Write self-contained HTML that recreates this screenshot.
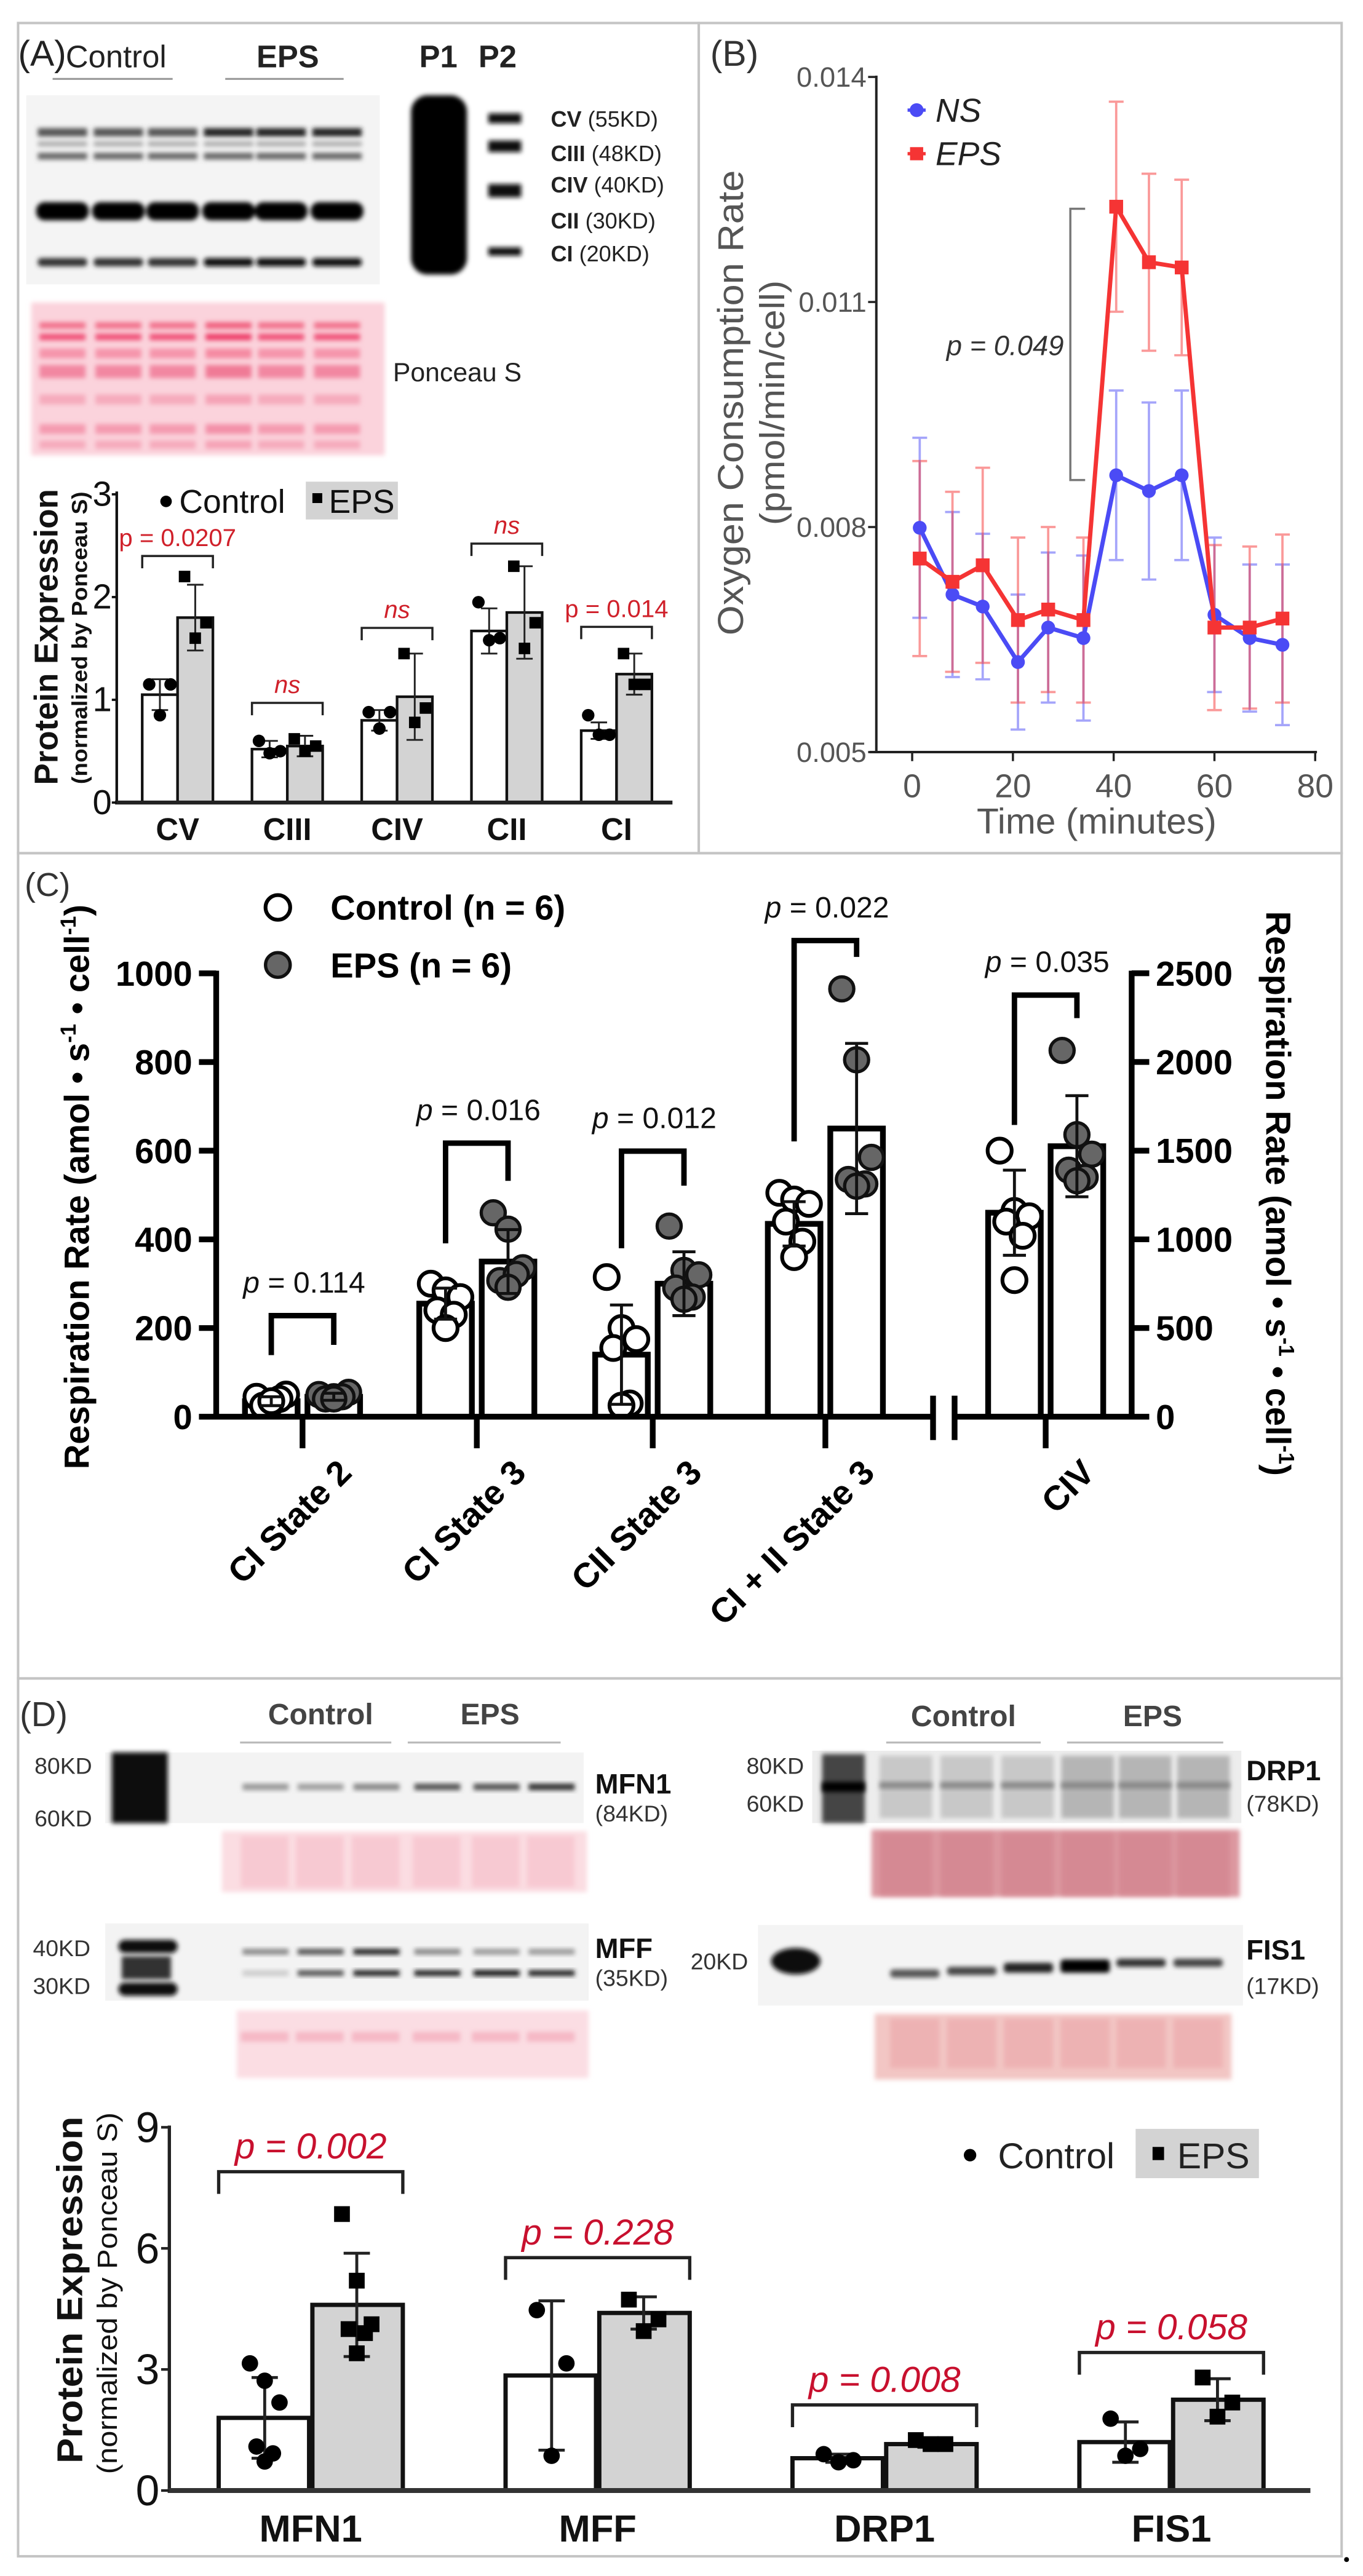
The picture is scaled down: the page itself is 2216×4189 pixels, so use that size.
<!DOCTYPE html>
<html>
<head>
<meta charset="utf-8">
<style>
html,body{margin:0;padding:0;background:#fff;}
svg{display:block;}
text{font-family:"Liberation Sans",sans-serif;}
.nar{font-family:"Liberation Sans Narrow","Liberation Sans",sans-serif;}
</style>
</head>
<body>
<svg id="fig" xmlns="http://www.w3.org/2000/svg" viewBox="0 0 829 1567" width="2216" height="4189" preserveAspectRatio="none">
<defs>
<filter id="b1" x="-20%" y="-50%" width="140%" height="200%"><feGaussianBlur stdDeviation="1.4"/></filter>
<filter id="b2" x="-20%" y="-20%" width="140%" height="140%"><feGaussianBlur stdDeviation="3"/></filter>
</defs>
<rect x="0" y="0" width="829" height="1567" fill="#fff"/>
<g fill="none" stroke="#c4c4c4" stroke-width="1.5">
<rect x="11" y="14" width="414" height="505"/>
<rect x="425" y="14" width="391" height="505"/>
<rect x="11" y="519" width="805" height="502"/>
<rect x="11" y="1021" width="805" height="534"/>
</g>
<circle cx="819" cy="1557" r="1.5" fill="#000"/>

<g>
<text x="11" y="40" font-size="22" fill="#222">(A)</text>
<text x="40" y="41" class="nar" font-size="19" fill="#222">Control</text>
<line x1="32" y1="48" x2="105" y2="48" stroke="#999" stroke-width="1.2"/>
<text x="156" y="41" class="nar" font-size="19" font-weight="bold" fill="#222">EPS</text>
<line x1="137" y1="48" x2="209" y2="48" stroke="#999" stroke-width="1.2"/>
<text x="255" y="41" class="nar" font-size="19" font-weight="bold" fill="#222">P1</text>
<text x="291" y="41" class="nar" font-size="19" font-weight="bold" fill="#222">P2</text>
<rect x="16" y="58" width="215" height="115" fill="#f4f4f4"/>
<g id="blotA" filter="url(#b1)"></g>
<rect x="250" y="58" width="34" height="109" rx="10" fill="#050505" filter="url(#b1)"/>
<g id="p2lane" filter="url(#b1)"></g>
<g class="nar" font-size="13.5" fill="#222">
<text x="335" y="77"><tspan font-weight="bold">CV</tspan> (55KD)</text>
<text x="335" y="98"><tspan font-weight="bold">CIII</tspan> (48KD)</text>
<text x="335" y="117"><tspan font-weight="bold">CIV</tspan> (40KD)</text>
<text x="335" y="139"><tspan font-weight="bold">CII</tspan> (30KD)</text>
<text x="335" y="159"><tspan font-weight="bold">CI</tspan> (20KD)</text>
</g>
<rect x="19" y="184" width="215" height="93" fill="#fbd3dc" filter="url(#b1)"/>
<g id="ponA" filter="url(#b1)"></g>
<text x="239" y="232" class="nar" font-size="16" fill="#222">Ponceau S</text>
</g>
<g id="chartA"></g>

<text x="432" y="40" font-size="22" fill="#333">(B)</text>
<g id="chartB"></g>

<text x="15" y="545" font-size="20" fill="#333">(C)</text>
<g id="chartC"></g>

<g>
<text x="12" y="1050" font-size="21" fill="#333">(D)</text>
<text x="163" y="1049" class="nar" font-size="18" font-weight="bold" fill="#444">Control</text>
<line x1="146" y1="1060" x2="238" y2="1060" stroke="#bbb" stroke-width="1.2"/>
<text x="280" y="1049" class="nar" font-size="18" font-weight="bold" fill="#444">EPS</text>
<line x1="248" y1="1060" x2="341" y2="1060" stroke="#bbb" stroke-width="1.2"/>
<text x="554" y="1050" class="nar" font-size="18" font-weight="bold" fill="#444">Control</text>
<line x1="539" y1="1060" x2="633" y2="1060" stroke="#bbb" stroke-width="1.2"/>
<text x="683" y="1050" class="nar" font-size="18" font-weight="bold" fill="#444">EPS</text>
<line x1="649" y1="1060" x2="744" y2="1060" stroke="#bbb" stroke-width="1.2"/>

<rect x="64" y="1066" width="291" height="43" fill="#f3f3f3"/>
<rect x="68" y="1066" width="34" height="43" fill="#080808" filter="url(#b1)"/>
<rect x="135" y="1114" width="222" height="37" fill="#fbdde2" filter="url(#b1)"/>
<rect x="64" y="1170" width="294" height="47" fill="#f3f3f3"/>
<rect x="144" y="1223" width="214" height="41" fill="#fbdde3" filter="url(#b1)"/>
<rect x="494" y="1065" width="261" height="44" fill="#ededed"/>
<rect x="530" y="1113" width="224" height="41" fill="#dc98a0" filter="url(#b1)"/>
<rect x="461" y="1171" width="295" height="49" fill="#f4f4f4"/>
<rect x="532" y="1225" width="217" height="40" fill="#f2c6c4" filter="url(#b1)"/>
<g id="blotD"></g>
<g class="nar" font-size="14" fill="#333">
<text x="21" y="1079">80KD</text>
<text x="21" y="1111">60KD</text>
<text x="20" y="1190">40KD</text>
<text x="20" y="1213">30KD</text>
<text x="454" y="1079">80KD</text>
<text x="454" y="1102">60KD</text>
<text x="420" y="1198">20KD</text>
<text x="362" y="1108">(84KD)</text>
<text x="362" y="1208">(35KD)</text>
<text x="758" y="1102">(78KD)</text>
<text x="758" y="1213">(17KD)</text>
</g>
<g class="nar" font-size="17" font-weight="bold" fill="#111">
<text x="362" y="1091">MFN1</text>
<text x="362" y="1191">MFF</text>
<text x="758" y="1083">DRP1</text>
<text x="758" y="1192">FIS1</text>
</g>
</g>
<g id="chartD"></g>
</svg>

<script>
// Panel A
const catsA = ['CV','CIII','CIV','CII','CI'];
const ctrlA = [1.05,0.52,0.8,1.67,0.7];
const epsA = [1.8,0.55,1.03,1.85,1.25];
const ctrlErrA = [0.15,0.08,0.1,0.22,0.08];
const epsErrA = [0.32,0.1,0.42,0.45,0.2];
const ctrlPtsA = [[1.15,1.15,0.85],[0.6,0.5,0.48],[0.88,0.88,0.72],[1.95,1.6,1.58],[0.85,0.66,0.66]];
const epsPtsA = [[2.2,1.75,1.6],[0.62,0.55,0.5],[1.45,0.92,0.78],[2.3,1.75,1.5],[1.45,1.15,1.15]];
const pLabelsA = ['p = 0.0207','ns','ns','ns','p = 0.014'];
const bracketA = [2.4,0.97,1.7,2.52,1.71];
const ticksA = [0,1,2,3];
// Panel B
const timesB = [1.5,8,14,21,27,34,40.5,47,53.5,60,67,73.5];
const nsB = [0.00799,0.0071,0.00694,0.0062,0.00666,0.00652,0.00869,0.00848,0.00869,0.00683,0.00652,0.00643];
const nsErrB = [0.0012,0.0011,0.00097,0.0009,0.001,0.0011,0.00113,0.00118,0.00113,0.00103,0.00098,0.00107];
const epsB = [0.00758,0.00727,0.00749,0.00676,0.0069,0.00676,0.01227,0.01153,0.01146,0.00666,0.00666,0.00678];
const epsErrB = [0.0013,0.0012,0.0013,0.0011,0.0011,0.0011,0.0014,0.00118,0.00117,0.0011,0.00108,0.00112];
const yTicksB = [0.005,0.008,0.011,0.014];
const yTickLabelsB = ['0.005','0.008','0.011','0.014'];
const xTicksB = [0,20,40,60,80];
// Panel C
const catsC = ['CI State 2','CI State 3','CII State 3','CI + II State 3','CIV'];
const axisC = ['L','L','L','L','R'];
const ctrlC = [35,255,140,435,1150];
const epsC = [45,350,300,650,1525];
const ctrlErrC = [10,35,112,50,240];
const epsErrC = [8,72,72,192,285];
const ctrlPtsC = [[45,30,50,25,40,35],[300,285,270,240,230,200],[315,200,175,155,30,25],[505,490,480,440,395,360],[1500,1160,1130,1100,1020,770]];
const epsPtsC = [[50,45,55,40,45,40],[460,423,336,307,321,292],[430,330,320,290,270,265],[965,805,585,535,525,520],[2065,1590,1480,1390,1350,1330]];
const pLabelsC = ['0.114','0.016','0.012','0.022','0.035'];
const bracketTopC = [228,617,599,1074,951];
const bracketLegLC = [139,391,380,621,658];
const bracketLegRC = [162,532,521,1037,899];
const ticksCL = [0,200,400,600,800,1000];
const ticksCR = [0,500,1000,1500,2000,2500];
// Panel D
const catsD = ['MFN1','MFF','DRP1','FIS1'];
const ctrlD = [1.8,2.85,0.8,1.2];
const epsD = [4.6,4.4,1.15,2.25];
const ctrlErrD = [1.0,1.85,0.1,0.5];
const epsErrD = [1.28,0.4,0.08,0.52];
const ctrlPtsD = [[3.15,2.72,2.18,1.09,0.92,0.72],[4.47,3.15,0.86],[0.9,0.75,0.7],[1.78,1.03,0.86]];
const epsPtsD = [[6.85,5.2,4.12,4.0,3.9,3.4],[4.73,4.24,3.95],[1.25,1.15,1.15],[2.8,2.18,1.83]];
const pLabelsD = ['p = 0.002','p = 0.228','p = 0.008','p = 0.058'];
const bracketTopD = [7.9,5.77,2.12,3.42];
const ticksD = [0,3,6,9];

const NS = 'http://www.w3.org/2000/svg';
function mk(tag, attrs, parent){
  const e = document.createElementNS(NS, tag);
  for (const k in attrs) e.setAttribute(k, attrs[k]);
  parent.appendChild(e);
  return e;
}
function $(id){return document.getElementById(id);}
const jit3 = [-5,5,0];
const jit6 = [-9,0,9,-5,5,0];

(function(){
  const g = $('blotA');
  const lanes = [38,72,105,139,171,205];
  lanes.forEach((cx,i)=>{
    const eps = i>=3;
    let r;
    r = mk('rect',{x:cx-15,y:78,width:30,height:5,fill:eps?'#222':'#555'},g);
    
    
    r = mk('rect',{x:cx-15,y:86,width:30,height:3,fill:'#aaa'},g);
    
    
    r = mk('rect',{x:cx-15,y:93,width:30,height:4,fill:'#666'},g);
    
    
    r = mk('rect',{x:cx-16,y:123,width:32,height:11,rx:5,fill:'#050505'},g);
    
    
    r = mk('rect',{x:cx-15,y:157,width:30,height:5,rx:2,fill:eps?'#111':'#333'},g);
    
    
  });
  const p2 = $('p2lane');
  [[72,6],[89,7],[116,8],[153,5]].forEach(b=>{
    const r = mk('rect',{x:297,y:b[0]-b[1]/2,width:20,height:b[1],fill:'#111'},p2);
    
    
  });
  const pg = $('ponA');
  lanes.forEach((cx,i)=>{
    const bands = [[196,4,'#f0607f'],[203,4,'#ee3d68'],[212,6,'#f58aa2'],[222,8,'#f07a96'],[240,6,'#f5a3b6'],[258,6,'#f390a8'],[268,5,'#f5a3b6']];
    bands.forEach(b=>{
      const r = mk('rect',{x:cx-14,y:b[0],width:28,height:b[1],fill:b[2],opacity:i===3?1:0.85},pg);
      
      
    });
  });
  const d = $('blotD');
  const lanesD1 = [161.5,195,229,266,302,335.5];
  const mfnShade = ['#999','#a0a0a0','#888','#555','#555','#333'];
  lanesD1.forEach((cx,i)=>{
    let r = mk('rect',{x:cx-14,y:1085,width:28,height:4,fill:mfnShade[i],filter:'url(#b1)'},d);
    
    
    r = mk('rect',{x:cx-14,y:1185.5,width:28,height:3.5,fill:['#888','#555','#222','#888','#999','#999'][i],filter:'url(#b1)'},d);
    
    
    r = mk('rect',{x:cx-14,y:1198.5,width:28,height:3.5,fill:['#ccc','#555','#222','#222','#111','#222'][i],filter:'url(#b1)'},d);
    
    
    r = mk('rect',{x:cx-15,y:1117,width:29,height:31,fill:'#f6bcc8',opacity:0.6,filter:'url(#b1)'},d);
    
    
    r = mk('rect',{x:cx-15,y:1236,width:29,height:6,fill:'#f3a9b9',opacity:0.7,filter:'url(#b1)'},d);
    
    
  });
  let lr = mk('rect',{x:72,y:1180,width:36,height:8,rx:4,fill:'#080808',filter:'url(#b1)'},d);
  
  
  lr = mk('rect',{x:74,y:1190,width:30,height:14,fill:'#333',filter:'url(#b1)'},d);
  
  
  lr = mk('rect',{x:72,y:1206,width:36,height:8,rx:4,fill:'#080808',filter:'url(#b1)'},d);
  
  
  const lanesD2 = [551,588,625,661.5,696.5,732];
  lanesD2.forEach((cx,i)=>{
    let r = mk('rect',{x:cx-16,y:1068,width:32,height:38,fill:i>=3?'#b5b5b5':'#c8c8c8',filter:'url(#b1)'},d);
    
    
    r = mk('rect',{x:cx-16,y:1084,width:32,height:4,fill:'#888',filter:'url(#b1)'},d);
    
    
    r = mk('rect',{x:cx-16,y:1115,width:32,height:38,fill:'#d3838e',opacity:0.7,filter:'url(#b1)'},d);
    
    
  });
  lr = mk('rect',{x:500,y:1067,width:26,height:42,fill:'#444',filter:'url(#b1)'},d);
  
  
  lr = mk('rect',{x:500,y:1084,width:26,height:6,fill:'#000',filter:'url(#b1)'},d);
  
  
  const lanesF = [556.4,591,625.5,660,694,728.7];
  const fisY = [1200.5,1199,1197,1196,1194,1194];
  const fisC = ['#555','#444','#222','#000','#333','#444'];
  const fisH = [5,5,6,8,5,5];
  lanesF.forEach((cx,i)=>{
    let r = mk('rect',{x:cx-15,y:fisY[i]-fisH[i]/2,width:30,height:fisH[i],rx:2,fill:fisC[i],filter:'url(#b1)'},d);
    
    
    r = mk('rect',{x:cx-15,y:1228,width:30,height:30,fill:'#eba5a8',opacity:0.6,filter:'url(#b1)'},d);
    
    
  });
  lr = mk('ellipse',{cx:484,cy:1193,rx:15,ry:8,fill:'#080808',filter:'url(#b1)'},d);
  
  
})();

// CHART A
(function(){
  const g = $('chartA');
  const yA = v => 488.2 - v*62.5;
  const xA = i => 108 + i*66.75;
  const bw = 21.5;
  catsA.forEach((c,i)=>{
    const cx = xA(i);
    let b = mk('rect',{x:cx-bw,y:yA(ctrlA[i]),width:bw,height:yA(0)-yA(ctrlA[i]),fill:'#fff',stroke:'#111','stroke-width':1.6},g);
    
    
    b = mk('rect',{x:cx,y:yA(epsA[i]),width:bw,height:yA(0)-yA(epsA[i]),fill:'#d3d3d3',stroke:'#111','stroke-width':1.6},g);
    
    
    [[cx-bw/2,ctrlA[i],ctrlErrA[i]],[cx+bw/2,epsA[i],epsErrA[i]]].forEach(e=>{
      const p = mk('path',{d:`M${e[0]} ${yA(e[1]-e[2])}V${yA(e[1]+e[2])}M${e[0]-5} ${yA(e[1]+e[2])}h10M${e[0]-5} ${yA(e[1]-e[2])}h10`,stroke:'#222','stroke-width':1.1,fill:'none'},g);
      
      
    });
    ctrlPtsA[i].forEach((v,j)=>{
      const p = mk('circle',{cx:cx-bw/2+jit3[j]*1.3,cy:yA(v),r:3.8,fill:'#000'},g);
      
      
    });
    epsPtsA[i].forEach((v,j)=>{
      const p = mk('rect',{x:cx+bw/2+jit3[j]*1.3-3.5,y:yA(v)-3.5,width:7,height:7,fill:'#000'},g);
      
      
    });
    const by = yA(bracketA[i]);
    const br = mk('path',{d:`M${cx-bw} ${by+7.5}V${by}H${cx+bw}V${by+7.5}`,stroke:'#222','stroke-width':1.3,fill:'none'},g);
    
    
    const t = mk('text',{x:cx,y:by-6,'text-anchor':'middle','font-size':15,fill:'#d0202a','font-style':pLabelsA[i]==='ns'?'italic':'normal',class:'nar'},g);
    t.textContent = pLabelsA[i];
    
    
    const xl = mk('text',{x:cx,y:511,'text-anchor':'middle','font-size':19,'font-weight':'bold',fill:'#111',class:'nar'},g);
    xl.textContent = c;
    
    
  });
  let a = mk('line',{x1:71,y1:299,x2:71,y2:489,stroke:'#111','stroke-width':1.6},g);
  
  
  a = mk('line',{x1:70,y1:488.2,x2:409,y2:488.2,stroke:'#222','stroke-width':2.4},g);
  
  
  ticksA.forEach(v=>{
    const tk = mk('line',{x1:68,y1:yA(v),x2:71,y2:yA(v),stroke:'#111','stroke-width':1.4},g);
    
    
    const tl = mk('text',{x:68,y:yA(v)+7,'text-anchor':'end','font-size':21,fill:'#111',class:'nar'},g);
    tl.textContent = String(v);
    
    
  });
  let t = mk('text',{x:0,y:0,'text-anchor':'middle','font-size':20,'font-weight':'bold',fill:'#111',transform:'translate(35,387.5) rotate(-90)',textLength:180,lengthAdjust:'spacingAndGlyphs'},g);
  t.textContent = 'Protein Expression';
  
  
  t = mk('text',{x:0,y:0,'text-anchor':'middle','font-size':13,'font-weight':'bold',fill:'#111',transform:'translate(53,388) rotate(-90)',textLength:178,lengthAdjust:'spacingAndGlyphs'},g);
  t.textContent = '(normalized by Ponceau S)';
  
  
  let l = mk('circle',{cx:101,cy:305,r:3.5,fill:'#000'},g);
  
  
  l = mk('text',{x:109,y:312,'font-size':20,fill:'#111',class:'nar'},g);
  l.textContent = 'Control';
  
  
  l = mk('rect',{x:186,y:293,width:56,height:23,fill:'#d3d3d3'},g);
  
  
  l = mk('rect',{x:190,y:300,width:6,height:6,fill:'#000'},g);
  
  
  l = mk('text',{x:200,y:312,'font-size':20,fill:'#111',class:'nar'},g);
  l.textContent = 'EPS';
  
  
})();

// CHART B
(function(){
  const g = $('chartB');
  const xB = t => 554.8 + t*3.064;
  const yB = v => 46.8 + (0.014 - v)/0.009*410.7;
  const blue = '#4b4bf5', red = '#f53434';
  [[nsB,nsErrB,blue,'ns'],[epsB,epsErrB,red,'eps']].forEach(s=>{
    timesB.forEach((t,i)=>{
      const x = xB(t), lo = yB(s[0][i]-s[1][i]), hi = yB(s[0][i]+s[1][i]);
      const p = mk('path',{d:`M${x} ${lo}V${hi}M${x-4.5} ${hi}h9M${x-4.5} ${lo}h9`,stroke:s[2],'stroke-width':1.4,'stroke-opacity':0.5,fill:'none'},g);
      
      
    });
  });
  [[nsB,blue,'ns'],[epsB,red,'eps']].forEach(s=>{
    const d = timesB.map((t,i)=>(i?'L':'M')+xB(t)+' '+yB(s[0][i])).join('');
    const p = mk('path',{d:d,stroke:s[1],'stroke-width':2.6,fill:'none'},g);
    
    
    timesB.forEach((t,i)=>{
      let m;
      if (s[2]==='ns') m = mk('circle',{cx:xB(t),cy:yB(s[0][i]),r:4.2,fill:s[1]},g);
      else m = mk('rect',{x:xB(t)-4.2,y:yB(s[0][i])-4.2,width:8.4,height:8.4,fill:s[1]},g);
      
      
    });
  });
  let a = mk('line',{x1:533,y1:46,x2:533,y2:458,stroke:'#222','stroke-width':1.5},g);
  
  
  a = mk('line',{x1:529,y1:457.5,x2:801,y2:457.5,stroke:'#222','stroke-width':1.5},g);
  
  
  yTicksB.forEach((v,i)=>{
    const tk = mk('line',{x1:528,y1:yB(v),x2:533,y2:yB(v),stroke:'#222','stroke-width':1.3},g);
    
    
    const tl = mk('text',{x:527,y:yB(v)+6,'text-anchor':'end','font-size':17,fill:'#555'},g);
    tl.textContent = yTickLabelsB[i];
    
    
  });
  xTicksB.forEach(v=>{
    const tk = mk('line',{x1:xB(v),y1:457.5,x2:xB(v),y2:463,stroke:'#222','stroke-width':1.3},g);
    
    
    const tl = mk('text',{x:xB(v),y:485,'text-anchor':'middle','font-size':20,fill:'#555'},g);
    tl.textContent = String(v);
    
    
  });
  let t = mk('text',{x:667,y:507,'text-anchor':'middle','font-size':22,fill:'#555'},g);
  t.textContent = 'Time (minutes)';
  
  
  t = mk('text',{x:0,y:0,'text-anchor':'middle','font-size':22,fill:'#555',transform:'translate(452,245) rotate(-90)',textLength:283,lengthAdjust:'spacingAndGlyphs'},g);
  t.textContent = 'Oxygen  Consumption Rate';
  
  
  t = mk('text',{x:0,y:0,'text-anchor':'middle','font-size':21,fill:'#555',transform:'translate(477,245) rotate(-90)',textLength:149,lengthAdjust:'spacingAndGlyphs'},g);
  t.textContent = '(pmol/min/cell)';
  
  
  let br = mk('path',{d:'M660 127H651V292H660',stroke:'#777','stroke-width':1.3,fill:'none'},g);
  
  
  t = mk('text',{x:647,y:216,'text-anchor':'end','font-size':17,'font-style':'italic',fill:'#333'},g);
  t.textContent = 'p = 0.049';
  
  
  let l = mk('line',{x1:552,y1:67,x2:563,y2:67,stroke:blue,'stroke-width':2},g);
  
  
  l = mk('circle',{cx:557.5,cy:67,r:4.2,fill:blue},g);
  
  
  l = mk('text',{x:569,y:74,'font-size':20,'font-style':'italic',fill:'#222'},g);
  l.textContent = 'NS';
  
  
  l = mk('line',{x1:552,y1:93.5,x2:563,y2:93.5,stroke:red,'stroke-width':2},g);
  
  
  l = mk('rect',{x:553.5,y:89.5,width:8,height:8,fill:red},g);
  
  
  l = mk('text',{x:569,y:100.5,'font-size':20,'font-style':'italic',fill:'#222'},g);
  l.textContent = 'EPS';
  
  
})();

// CHART C
(function(){
  const g = $('chartC');
  const yL = v => 861.8 - v*0.2697;
  const yR = v => 861.8 - v*0.1079;
  const xC = [184,290,397,502,636];
  const ys = i => axisC[i]==='L' ? yL : yR;
  catsC.forEach((c,i)=>{
    const cx = xC[i], y = ys(i);
    let b = mk('rect',{x:cx-35,y:y(ctrlC[i]),width:32,height:861.8-y(ctrlC[i]),fill:'#fff',stroke:'#000','stroke-width':3.5},g);
    
    
    b = mk('rect',{x:cx+3,y:y(epsC[i]),width:32,height:861.8-y(epsC[i]),fill:'#fff',stroke:'#000','stroke-width':3.5},g);
    
    
    ctrlPtsC[i].forEach((v,j)=>{
      const p = mk('circle',{cx:cx-19+jit6[j],cy:y(v),r:7.3,fill:'#fff',stroke:'#000','stroke-width':2.3},g);
      
      
    });
    epsPtsC[i].forEach((v,j)=>{
      const p = mk('circle',{cx:cx+19+jit6[j],cy:y(v),r:7.3,fill:'#666',stroke:'#111','stroke-width':2},g);
      
      
    });
    [[cx-19,ctrlC[i],ctrlErrC[i]],[cx+19,epsC[i],epsErrC[i]]].forEach(e=>{
      const lo = y(e[1]-e[2]), hi = y(e[1]+e[2]);
      const p = mk('path',{d:`M${e[0]} ${lo}V${hi}M${e[0]-7} ${hi}h14M${e[0]-7} ${lo}h14`,stroke:'#111','stroke-width':1.8,fill:'none'},g);
      
      
    });
    const bt = yL(bracketTopC[i]);
    const br = mk('path',{d:`M${cx-19} ${yL(bracketLegLC[i])}V${bt}H${cx+19}V${yL(bracketLegRC[i])}`,stroke:'#000','stroke-width':3.3,fill:'none'},g);
    
    
    const t = mk('text',{x:cx+1,y:bt-14,'text-anchor':'middle','font-size':18,fill:'#111'},g);
    const ti = mk('tspan',{'font-style':'italic'},t);
    ti.textContent = 'p';
    const tr = mk('tspan',{},t);
    tr.textContent = ' = '+pLabelsC[i];
    
    
    const tk = mk('line',{x1:cx,y1:861,x2:cx,y2:881,stroke:'#000','stroke-width':3.5},g);
    
    
    const xl = mk('text',{x:0,y:0,'text-anchor':'end','font-size':21,'font-weight':'bold',fill:'#000',transform:`translate(${cx+31},${897}) rotate(-45)`},g);
    xl.textContent = c;
    
    
  });
  let a = mk('line',{x1:131.5,y1:590.5,x2:131.5,y2:863.5,stroke:'#000','stroke-width':3.5},g);
  
  
  a = mk('line',{x1:688.3,y1:590.5,x2:688.3,y2:863.5,stroke:'#000','stroke-width':3.5},g);
  
  
  a = mk('path',{d:'M129.8 861.8H567.5M580.6 861.8H690',stroke:'#000','stroke-width':3.5,fill:'none'},g);
  
  
  a = mk('path',{d:'M567.5 849V876M580.6 849V876',stroke:'#000','stroke-width':3.5,fill:'none'},g);
  
  
  ticksCL.forEach(v=>{
    const tk = mk('line',{x1:121,y1:yL(v),x2:131.5,y2:yL(v),stroke:'#000','stroke-width':3.5},g);
    
    
    const tl = mk('text',{x:117,y:yL(v)+7.5,'text-anchor':'end','font-size':21,'font-weight':'bold',fill:'#000'},g);
    tl.textContent = String(v);
    
    
  });
  ticksCR.forEach(v=>{
    const tk = mk('line',{x1:688.3,y1:yR(v),x2:699,y2:yR(v),stroke:'#000','stroke-width':3.5},g);
    
    
    const tl = mk('text',{x:703,y:yR(v)+7.5,'text-anchor':'start','font-size':21,'font-weight':'bold',fill:'#000'},g);
    tl.textContent = String(v);
    
    
  });
  function title(tx,rot,name){
    const t = mk('text',{x:0,y:0,'text-anchor':'middle','font-size':21,'font-weight':'bold',fill:'#000',transform:tx+' rotate('+rot+')'},g);
    let s;
    s = mk('tspan',{},t); s.textContent = 'Respiration Rate (amol \u2022 s';
    s = mk('tspan',{'font-size':13,dy:-8},t); s.textContent = '-1';
    s = mk('tspan',{dy:8},t); s.textContent = ' \u2022 cell';
    s = mk('tspan',{'font-size':13,dy:-8},t); s.textContent = '-1';
    s = mk('tspan',{dy:8},t); s.textContent = ')';
    
    
  }
  title('translate(54,722)',-90,'y-axis-title-left');
  title('translate(770,726)',90,'y-axis-title-right');
  let l = mk('circle',{cx:169,cy:552,r:7.5,fill:'#fff',stroke:'#000','stroke-width':2.3},g);
  
  
  l = mk('text',{x:201,y:559.5,'font-size':21,'font-weight':'bold',fill:'#000'},g);
  l.textContent = 'Control (n = 6)';
  
  
  l = mk('circle',{cx:169,cy:587,r:7.5,fill:'#666',stroke:'#111','stroke-width':2},g);
  
  
  l = mk('text',{x:201,y:594.5,'font-size':21,'font-weight':'bold',fill:'#000'},g);
  l.textContent = 'EPS (n = 6)';
  
  
})();

// CHART D
(function(){
  const g = $('chartD');
  const yD = v => 1515 - v*24.55;
  const xD = i => 189 + i*174.5;
  catsD.forEach((c,i)=>{
    const cx = xD(i);
    let b = mk('rect',{x:cx-56,y:yD(ctrlD[i]),width:55,height:1515-yD(ctrlD[i]),fill:'#fff',stroke:'#111','stroke-width':2.6},g);
    
    
    b = mk('rect',{x:cx+1,y:yD(epsD[i]),width:55,height:1515-yD(epsD[i]),fill:'#d3d3d3',stroke:'#111','stroke-width':2.6},g);
    
    
    [[cx-28,ctrlD[i],ctrlErrD[i]],[cx+28,epsD[i],epsErrD[i]]].forEach(e=>{
      const lo = yD(e[1]-e[2]), hi = yD(e[1]+e[2]);
      const p = mk('path',{d:`M${e[0]} ${lo}V${hi}M${e[0]-8} ${hi}h16M${e[0]-8} ${lo}h16`,stroke:'#222','stroke-width':1.8,fill:'none'},g);
      
      
    });
    const jc = ctrlPtsD[i].length===6 ? jit6 : jit3.map(v=>v*1.8);
    ctrlPtsD[i].forEach((v,j)=>{
      const p = mk('circle',{cx:cx-28+jc[j],cy:yD(v),r:5,fill:'#000'},g);
      
      
    });
    const je = epsPtsD[i].length===6 ? jit6 : jit3.map(v=>v*1.8);
    epsPtsD[i].forEach((v,j)=>{
      const p = mk('rect',{x:cx+28+je[j]-4.8,y:yD(v)-4.8,width:9.6,height:9.6,fill:'#000'},g);
      
      
    });
    const by = yD(bracketTopD[i]);
    const br = mk('path',{d:`M${cx-56} ${by+13.5}V${by}H${cx+56}V${by+13.5}`,stroke:'#222','stroke-width':2,fill:'none'},g);
    
    
    const t = mk('text',{x:cx,y:by-8,'text-anchor':'middle','font-size':22,'font-style':'italic',fill:'#c8102e',class:'nar'},g);
    t.textContent = pLabelsD[i];
    
    
    const xl = mk('text',{x:cx,y:1546,'text-anchor':'middle','font-size':23,'font-weight':'bold',fill:'#111',class:'nar'},g);
    xl.textContent = c;
    
    
  });
  let a = mk('line',{x1:103,y1:1293,x2:103,y2:1516,stroke:'#222','stroke-width':2},g);
  
  
  a = mk('line',{x1:102,y1:1515,x2:797,y2:1515,stroke:'#333','stroke-width':3},g);
  
  
  ticksD.forEach(v=>{
    const tk = mk('line',{x1:98,y1:yD(v),x2:103,y2:yD(v),stroke:'#222','stroke-width':1.6},g);
    
    
    const tl = mk('text',{x:97,y:yD(v)+9,'text-anchor':'end','font-size':26,fill:'#111',class:'nar'},g);
    tl.textContent = String(v);
    
    
  });
  let t = mk('text',{x:0,y:0,'text-anchor':'middle','font-size':22,'font-weight':'bold',fill:'#111',transform:'translate(50,1393) rotate(-90)',textLength:211,lengthAdjust:'spacingAndGlyphs'},g);
  t.textContent = 'Protein Expression';
  
  
  t = mk('text',{x:0,y:0,'text-anchor':'middle','font-size':17,fill:'#111',transform:'translate(71,1395) rotate(-90)',textLength:220,lengthAdjust:'spacingAndGlyphs'},g);
  t.textContent = '(normalized by Ponceau S)';
  
  
  let l = mk('circle',{cx:590,cy:1311,r:3.8,fill:'#000'},g);
  
  
  l = mk('text',{x:607,y:1319,'font-size':22,fill:'#222',class:'nar'},g);
  l.textContent = 'Control';
  
  
  l = mk('rect',{x:690.7,y:1295,width:75,height:30,fill:'#d3d3d3'},g);
  
  
  l = mk('rect',{x:701,y:1306,width:7,height:8,fill:'#000'},g);
  
  
  l = mk('text',{x:716,y:1319,'font-size':22,fill:'#222',class:'nar'},g);
  l.textContent = 'EPS';
  
  
})();
</script>
</body>
</html>
